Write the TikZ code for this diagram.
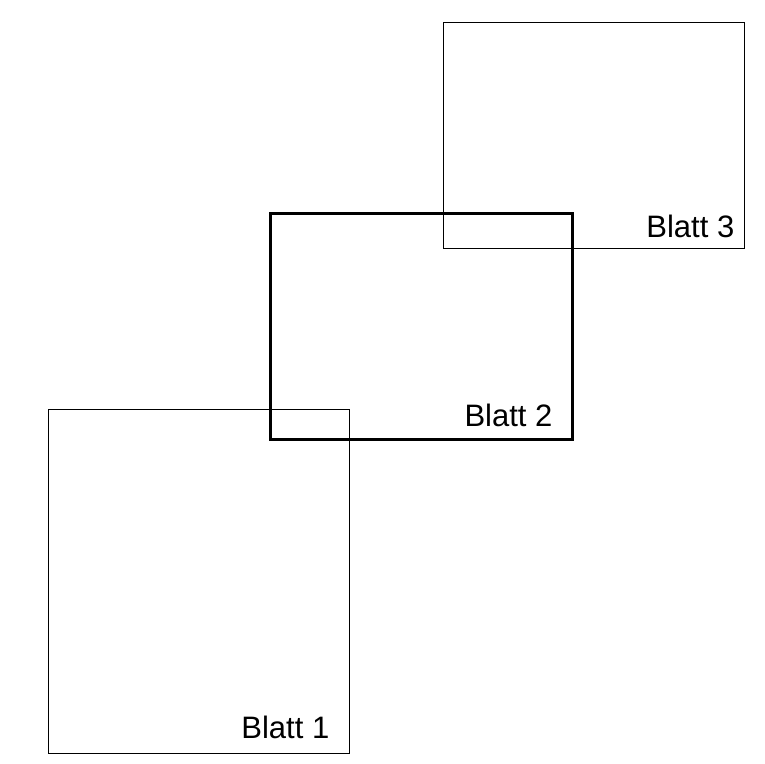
\documentclass[tikz,border=0pt]{standalone}
\usepackage{fontspec}
\setmainfont{Liberation Sans}
\usetikzlibrary{calc,positioning}
\tikzset{sheet/.style={draw, minimum width=301pt, inner sep=0pt},
  boldsheet/.style={sheet, line width=3pt, minimum width=302pt},
  tag/.style={font=\fontsize{31}{36}\selectfont, inner sep=0pt, anchor=base west}}

\begin{document}
\begin{tikzpicture}[x=1pt, y=-1pt, line width=0.9pt]
  \useasboundingbox (0,0) rectangle (764,764);
  % sheets
  \node[sheet, minimum height=344pt] (s1) at (198.5,581) {};
  \node[boldsheet, minimum height=226pt] (s2) at (421,326) {};
  \node[sheet, minimum height=226pt] (s3) at (593.5,135) {};
  % labels
  \node[tag] (t1) at ($(s1.south east)+(-108.5pt,15pt)$) {Blatt 1};
  \node[tag] (t2) at ($(s2.south east)+(-109.4pt,14pt)$) {Blatt 2};
  \node[tag] (t3) at ($(s3.south east)+(-98.5pt,11pt)$) {Blatt 3};
\end{tikzpicture}
\end{document}
